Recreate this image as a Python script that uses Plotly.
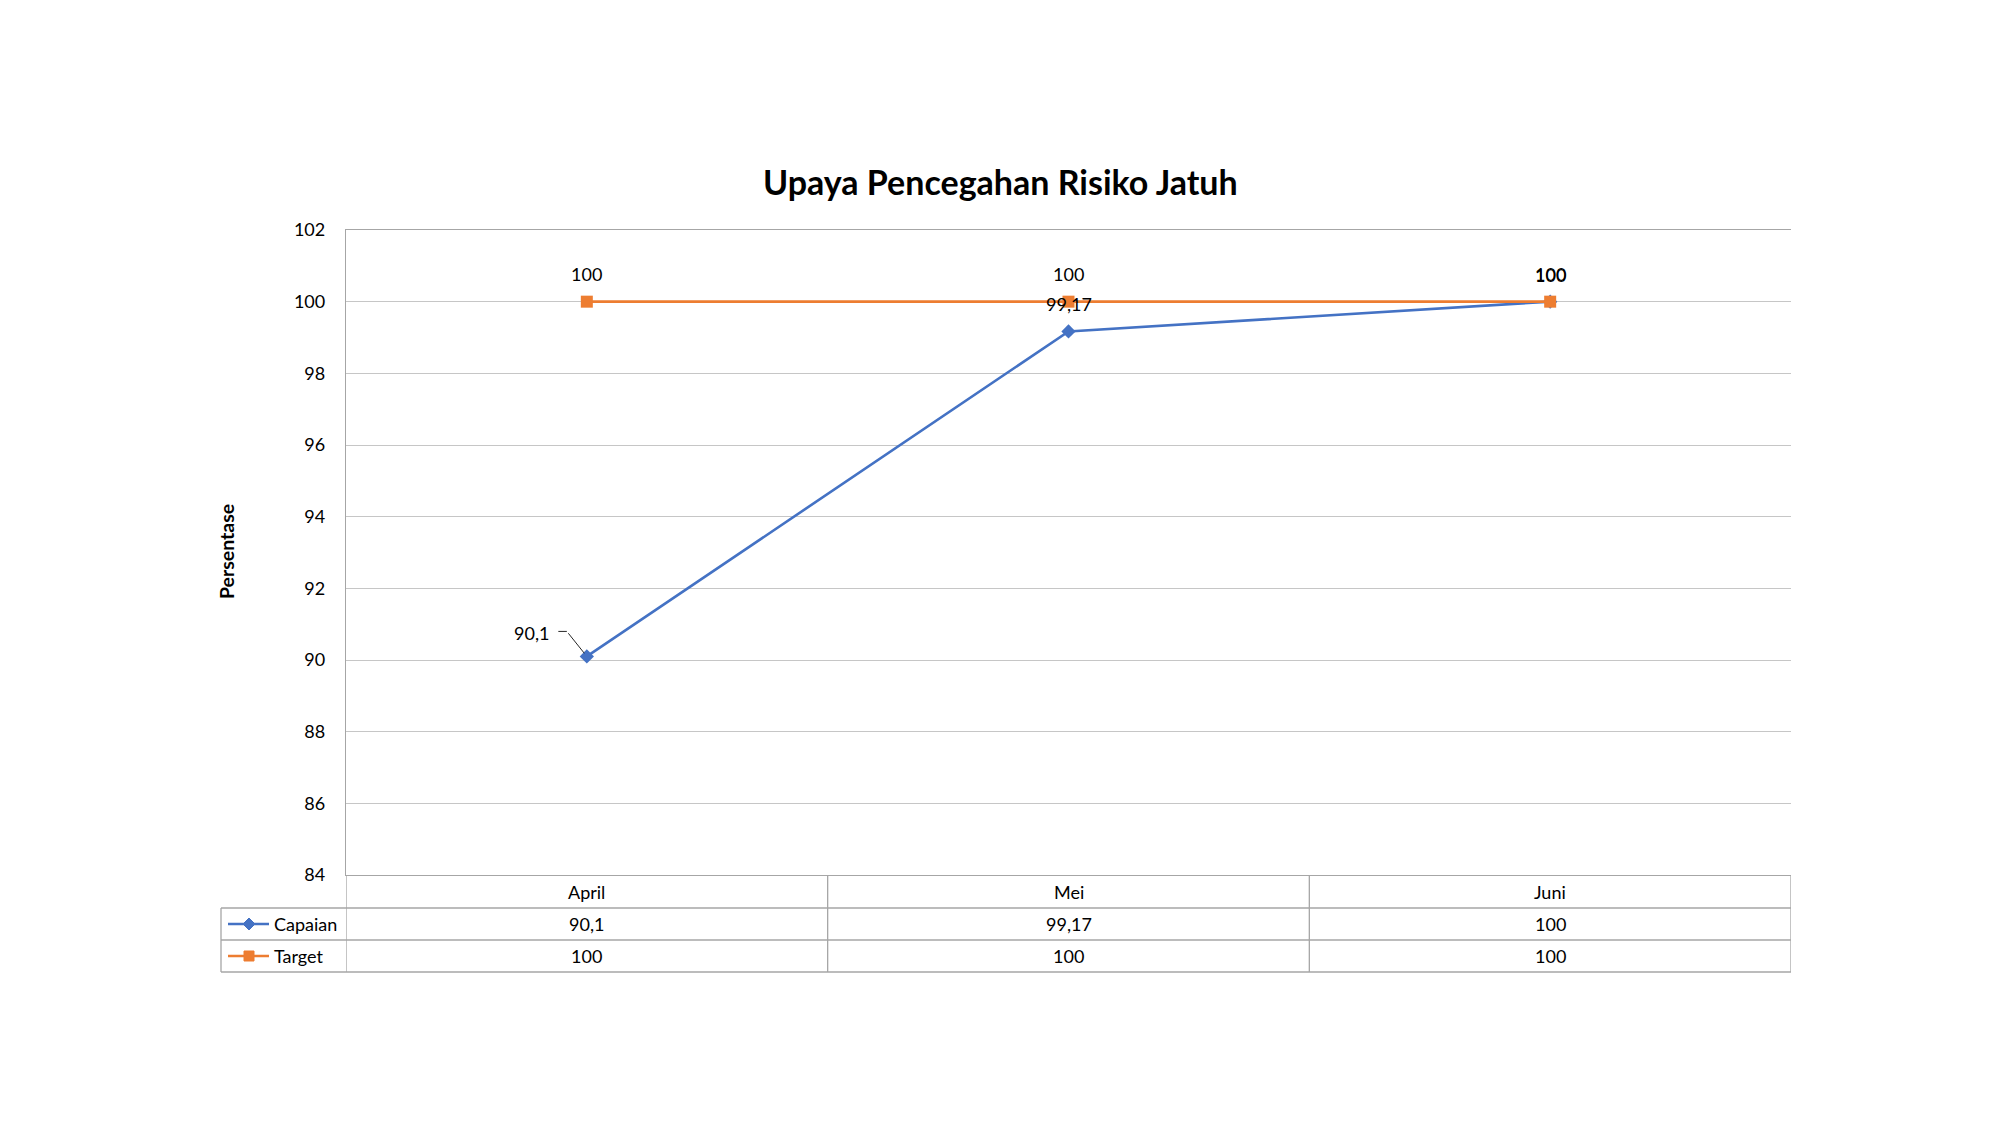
import plotly.graph_objects as go

# ---- data ----
categories = ["April", "Mei", "Juni"]
capaian = [90.1, 99.17, 100]
target = [100, 100, 100]
series_names = ["Capaian", "Target"]
y_min, y_max, y_step = 84, 102, 2
title_text = "Upaya Pencegahan Risiko Jatuh"
y_title = "Persentase"

# ---- style / layout ----
W, H = 2000, 1125
L, R, T, B = 346, 1791, 230, 875        # plot area in pixels
TBL_LEFT = 221
ROWS = [875, 908, 940, 972]               # table row boundaries (px)
BLUE = "#4472C4"
ORANGE = "#ED7D31"
GRID = "#C6C6C6"
TLINE = "#A6A6A6"
FONT = "Lato"
TXT = "#000000"


def px(xp):
    return (xp - L) / (R - L)


def py(yp):
    return (B - yp) / (B - T)


def fmt(v):
    return f"{v:g}".replace(".", ",")


fig = go.Figure()
fig.add_trace(go.Scatter(
    x=categories, y=capaian, name=series_names[0], mode="lines+markers",
    line=dict(color=BLUE, width=2.6),
    marker=dict(symbol="diamond", size=11, color=BLUE),
    cliponaxis=False,
))
fig.add_trace(go.Scatter(
    x=categories, y=target, name=series_names[1], mode="lines+markers",
    line=dict(color=ORANGE, width=2.6),
    marker=dict(symbol="square", size=12, color=ORANGE),
    cliponaxis=False,
))

annotations = []
lab_font = dict(family=FONT, size=18, color=TXT)
# data labels: target above
for c, v in zip(categories, target):
    annotations.append(dict(x=c, y=v, xref="x", yref="y", text=fmt(v), showarrow=False,
                            xanchor="center", yanchor="middle", yshift=28, font=lab_font))
# data labels: capaian (first one moved to the left with a leader line)
for i, (c, v) in enumerate(zip(categories, capaian)):
    if i == 0:
        annotations.append(dict(x=c, y=v, xref="x", yref="y", text=fmt(v), showarrow=False,
                                xanchor="center", yanchor="middle", xshift=-55, yshift=23,
                                font=lab_font))
        # leader line: diagonal part
        annotations.append(dict(x=c, y=v, xref="x", yref="y", text=" ", showarrow=True,
                                arrowhead=0, arrowwidth=1, arrowcolor="#262626",
                                ax=-20, ay=-25, standoff=4, font=dict(size=1)))
        # leader line: short horizontal part
        annotations.append(dict(x=c, y=v, xref="x", yref="y", text=" ", showarrow=True,
                                arrowhead=0, arrowwidth=1, arrowcolor="#262626",
                                xshift=-20, yshift=25, ax=-10, ay=0, font=dict(size=1)))
    else:
        annotations.append(dict(x=c, y=v, xref="x", yref="y", text=fmt(v), showarrow=False,
                                xanchor="center", yanchor="middle", yshift=27, font=lab_font))

# title
annotations.append(dict(x=px(1000), y=py(181), xref="paper", yref="paper",
                        xanchor="center", yanchor="middle",
                        text=f"<b>{title_text}</b>", showarrow=False,
                        font=dict(family=FONT, size=34, color=TXT)))
# y title
annotations.append(dict(x=px(226), y=py(552), xref="paper", yref="paper",
                        xanchor="center", yanchor="middle",
                        text=f"<b>{y_title}</b>", textangle=-90, showarrow=False,
                        font=dict(family=FONT, size=19.5, color=TXT)))

# data table text
row_mid = [(ROWS[k] + ROWS[k + 1]) / 2 for k in range(3)]
for c in categories:
    annotations.append(dict(x=c, y=py(row_mid[0]), xref="x", yref="paper", text=c,
                            xanchor="center", yanchor="middle",
                            showarrow=False, font=lab_font))
for r, vals in enumerate([capaian, target]):
    for c, v in zip(categories, vals):
        annotations.append(dict(x=c, y=py(row_mid[r + 1]), xref="x", yref="paper", text=fmt(v),
                                xanchor="center", yanchor="middle",
                                showarrow=False, font=lab_font))
    annotations.append(dict(x=px(272), y=py(row_mid[r + 1]), xref="paper", yref="paper",
                            text=series_names[r], xanchor="left", yanchor="middle",
                            showarrow=False, font=lab_font))

shapes = []
# horizontal table lines
for yv in ROWS[1:]:
    shapes.append(dict(type="line", xref="paper", yref="paper", x0=px(TBL_LEFT), x1=1,
                       y0=py(yv), y1=py(yv), line=dict(color=TLINE, width=1.3)))
# vertical table lines
shapes.append(dict(type="line", xref="paper", yref="paper", x0=px(TBL_LEFT), x1=px(TBL_LEFT),
                   y0=py(ROWS[1]), y1=py(ROWS[3]), line=dict(color=TLINE, width=1.3)))
for xv in [-0.5, 0.5, 1.5, 2.5]:
    shapes.append(dict(type="line", xref="x", yref="paper", x0=xv, x1=xv,
                       y0=py(ROWS[0]), y1=py(ROWS[3]), line=dict(color=TLINE, width=1.3)))
# legend keys inside the table
for r, (col, sym) in enumerate([(BLUE, "diamond"), (ORANGE, "square")]):
    yc = row_mid[r + 1]
    shapes.append(dict(type="line", xref="paper", yref="paper", x0=px(228), x1=px(269),
                       y0=py(yc), y1=py(yc), line=dict(color=col, width=2.6)))
    cx, s = 249, 6
    if sym == "diamond":
        path = (f"M {px(cx)},{py(yc - s)} L {px(cx + s)},{py(yc)} "
                f"L {px(cx)},{py(yc + s)} L {px(cx - s)},{py(yc)} Z")
        shapes.append(dict(type="path", xref="paper", yref="paper", path=path,
                           fillcolor=col, line=dict(color=col, width=1)))
    else:
        shapes.append(dict(type="rect", xref="paper", yref="paper",
                           x0=px(cx - 5), x1=px(cx + 5), y0=py(yc - 5), y1=py(yc + 5),
                           fillcolor=col, line=dict(color=col, width=1)))

fig.update_layout(
    width=W, height=H,
    margin=dict(l=L, r=W - R, t=T, b=H - B, pad=0),
    paper_bgcolor="white", plot_bgcolor="white",
    showlegend=False,
    font=dict(family=FONT, size=18, color=TXT),
    annotations=annotations, shapes=shapes,
    xaxis=dict(type="category", range=[-0.5, 2.5], showticklabels=False, showgrid=False,
               showline=True, mirror=True, linecolor=TLINE, linewidth=1.3, zeroline=False),
    yaxis=dict(range=[y_min, y_max], dtick=y_step, tick0=y_min, showgrid=True,
               gridcolor=GRID, gridwidth=1.3, showline=True, linecolor=TLINE, linewidth=1.3,
               zeroline=False, ticks="", ticklabelstandoff=16,
               tickfont=dict(family=FONT, size=18, color=TXT)),
)

fig.write_html("out.html")
